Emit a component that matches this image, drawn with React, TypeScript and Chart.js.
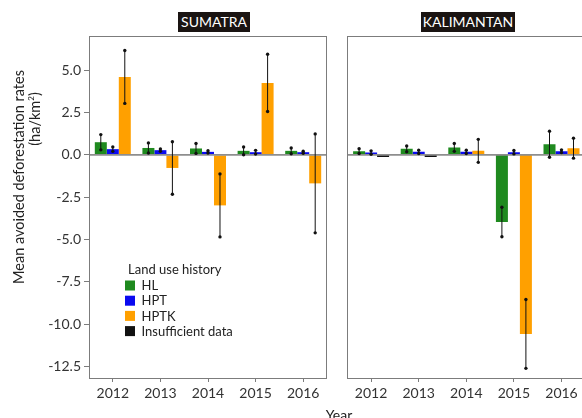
import React, { useEffect, useRef } from "react";
import { Chart, registerables } from "chart.js";

Chart.register(...registerables);

// Years on the x axis of both panels
const years = ["2012", "2013", "2014", "2015", "2016"];

// Shared y axis
const yTicks = [5, 2.5, 0, -2.5, -5, -7.5, -10, -12.5];
const yMin = -13.17;
const yMax = 7.02;

// Sumatra: mean avoided deforestation (ha/km²) and error half-widths
const sumatraHL = [0.75, 0.41, 0.38, 0.24, 0.24];
const sumatraHLErr = [0.45, 0.3, 0.29, 0.23, 0.17];
const sumatraHPT = [0.34, 0.28, 0.18, 0.16, 0.16];
const sumatraHPTErr = [0.13, 0.07, 0.07, 0.11, 0.06];
const sumatraHPTK = [4.6, -0.77, -2.98, 4.25, -1.68];
const sumatraHPTKErr = [1.56, 1.55, 1.86, 1.69, 2.92];

// Kalimantan
const kalimantanHL = [0.22, 0.36, 0.44, -3.96, 0.63];
const kalimantanHLErr = [0.14, 0.17, 0.23, 0.87, 0.77];
const kalimantanHPT = [0.14, 0.18, 0.18, 0.16, 0.22];
const kalimantanHPTErr = [0.1, 0.1, 0.1, 0.1, 0.08];
const kalimantanHPTK = [null, null, 0.24, -10.57, 0.4];
const kalimantanHPTKErr = [null, null, 0.68, 2.03, 0.59];
const kalimantanInsufficient = [-0.12, -0.12, null, null, null];

// Legend
const legendTitle = "Land use history";
const legendLabels = ["HL", "HPT", "HPTK", "Insufficient data"];
const COLORS = {
  HL: "#1f8a1f",
  HPT: "#0a0af0",
  HPTK: "#ffa000",
  Insufficient: "#111111",
};
const legendColors = [COLORS.HL, COLORS.HPT, COLORS.HPTK, COLORS.Insufficient];

const FONT = "Lato, 'Open Sans', sans-serif";
const AXIS_GRAY = "#7c7c7c";
const TEXT = "#333333";

const panelPlugin = {
  id: "panelDecor",
  afterDatasetsDraw(chart: any) {
    const { ctx, chartArea } = chart;
    const y = chart.scales.y;
    ctx.save();
    // zero reference line
    const y0 = y.getPixelForValue(0);
    ctx.strokeStyle = "#8e8e8e";
    ctx.lineWidth = 1.6;
    ctx.beginPath();
    ctx.moveTo(chartArea.left, y0);
    ctx.lineTo(chartArea.right, y0);
    ctx.stroke();

    // error bars with end dots
    chart.data.datasets.forEach((ds: any, i: number) => {
      const errs = ds.errors;
      if (!errs) return;
      const meta = chart.getDatasetMeta(i);
      meta.data.forEach((el: any, j: number) => {
        const v = ds.data[j];
        const e = errs[j];
        if (v == null || e == null) return;
        const x = el.x;
        const top = y.getPixelForValue(v + e);
        const bot = y.getPixelForValue(v - e);
        ctx.strokeStyle = "#111";
        ctx.lineWidth = 1;
        ctx.beginPath();
        ctx.moveTo(x, top);
        ctx.lineTo(x, bot);
        ctx.stroke();
        ctx.fillStyle = "#111";
        [top, bot].forEach((py) => {
          ctx.beginPath();
          ctx.arc(x, py, 1.7, 0, Math.PI * 2);
          ctx.fill();
        });
      });
    });

    // panel frame
    ctx.strokeStyle = AXIS_GRAY;
    ctx.lineWidth = 1;
    ctx.strokeRect(
      Math.round(chartArea.left) + 0.5,
      Math.round(chartArea.top) + 0.5,
      Math.round(chartArea.right - chartArea.left) - 1,
      Math.round(chartArea.bottom - chartArea.top)
    );
    ctx.restore();
  },
};

const legendPlugin = {
  id: "landUseLegend",
  afterDraw(chart: any) {
    if (!chart.options.plugins.landUseLegend?.show) return;
    const { ctx } = chart;
    ctx.save();
    ctx.font = `13px ${FONT}`;
    ctx.textBaseline = "middle";
    ctx.fillStyle = "#222";
    ctx.fillText(legendTitle, 128, 270);
    legendLabels.forEach((label, i) => {
      const cy = 285.5 + i * 15.2;
      ctx.fillStyle = legendColors[i];
      ctx.fillRect(125, cy - 5, 10, 10);
      ctx.fillStyle = "#222";
      ctx.fillText(label, 141.5, cy + 0.5);
    });
    ctx.restore();
  },
};

function barDataset(label: string, data: any[], color: any, errors: any[]) {
  return {
    label,
    data,
    backgroundColor: color,
    borderWidth: 0,
    categoryPercentage: 0.756,
    barPercentage: 1,
    errors,
  } as any;
}

function makeOptions(showY: boolean, padding: any, showLegend: boolean): any {
  return {
    responsive: false,
    animation: false,
    layout: { padding },
    plugins: {
      legend: { display: false },
      tooltip: { enabled: false },
      landUseLegend: { show: showLegend },
    },
    scales: {
      x: {
        type: "category",
        offset: true,
        grid: {
          offset: false,
          drawOnChartArea: false,
          drawTicks: true,
          tickLength: 4,
          color: AXIS_GRAY,
        },
        border: { display: false },
        ticks: {
          font: { family: FONT, size: 14 },
          color: TEXT,
          padding: 3,
          maxRotation: 0,
          autoSkip: false,
        },
        afterFit(s: any) {
          s.height = 40;
        },
      },
      y: {
        display: showY,
        min: yMin,
        max: yMax,
        afterBuildTicks(s: any) {
          s.ticks = yTicks.map((v) => ({ value: v }));
        },
        afterFit(s: any) {
          s.width = showY ? 89 : 0;
        },
        grid: {
          drawOnChartArea: false,
          drawTicks: true,
          tickLength: 5,
          color: AXIS_GRAY,
        },
        border: { display: false },
        ticks: {
          font: { family: FONT, size: 14 },
          color: TEXT,
          padding: 3,
          callback: (v: any) => Number(v).toFixed(1),
        },
      },
    },
  };
}

export default function App() {
  const leftRef = useRef<HTMLCanvasElement>(null);
  const rightRef = useRef<HTMLCanvasElement>(null);

  useEffect(() => {
    const kalThird = kalimantanHPTK.map((v, i) => (v != null ? v : kalimantanInsufficient[i]));
    const kalThirdColors = kalimantanHPTK.map((v) => (v != null ? COLORS.HPTK : COLORS.Insufficient));

    const left = new Chart(leftRef.current as HTMLCanvasElement, {
      type: "bar",
      data: {
        labels: years,
        datasets: [
          barDataset("HL", sumatraHL, COLORS.HL, sumatraHLErr),
          barDataset("HPT", sumatraHPT, COLORS.HPT, sumatraHPTErr),
          barDataset("HPTK", sumatraHPTK, COLORS.HPTK, sumatraHPTKErr),
        ],
      },
      options: makeOptions(true, { left: 0, right: 13, top: 36, bottom: 0 }, true),
      plugins: [panelPlugin, legendPlugin],
    });

    const right = new Chart(rightRef.current as HTMLCanvasElement, {
      type: "bar",
      data: {
        labels: years,
        datasets: [
          barDataset("HL", kalimantanHL, COLORS.HL, kalimantanHLErr),
          barDataset("HPT", kalimantanHPT, COLORS.HPT, kalimantanHPTErr),
          barDataset("HPTK / Insufficient data", kalThird, kalThirdColors, kalimantanHPTKErr),
        ],
      },
      options: makeOptions(false, { left: 7.3, right: 14.7, top: 36, bottom: 0 }, false),
      plugins: [panelPlugin],
    });

    return () => {
      left.destroy();
      right.destroy();
    };
  }, []);

  const titleBox: React.CSSProperties = {
    position: "absolute",
    top: 12,
    height: 20,
    background: "#1a1412",
    color: "#fff",
    fontSize: 14,
    lineHeight: "20px",
    textAlign: "center",
  };

  const rotated = (cx: number, cy: number): React.CSSProperties => ({
    position: "absolute",
    left: cx,
    top: cy,
    transform: "translate(-50%, -50%) rotate(-90deg)",
    whiteSpace: "nowrap",
    fontSize: 14.5,
    color: "#222",
  });

  return (
    <div
      style={{
        position: "fixed",
        left: 0,
        top: 0,
        width: 582,
        height: 418,
        overflow: "hidden",
        background: "#fff",
        fontFamily: FONT,
      }}
    >
      <canvas ref={leftRef} width={340} height={418} style={{ position: "absolute", left: 0, top: 0 }} />
      <canvas ref={rightRef} width={260} height={418} style={{ position: "absolute", left: 340, top: 0 }} />
      <div style={{ ...titleBox, left: 178, width: 72 }}>SUMATRA</div>
      <div style={{ ...titleBox, left: 421, width: 94 }}>KALIMANTAN</div>
      <div style={rotated(18, 177)}>Mean avoided deforestation rates</div>
      <div style={rotated(33.5, 119)}>
        (ha/km<sup style={{ fontSize: 8 }}>2</sup>)
      </div>
      <div
        style={{
          position: "absolute",
          left: 339,
          top: 406,
          transform: "translateX(-50%)",
          fontSize: 14,
          color: "#222",
          whiteSpace: "nowrap",
        }}
      >
        Year
      </div>
    </div>
  );
}
